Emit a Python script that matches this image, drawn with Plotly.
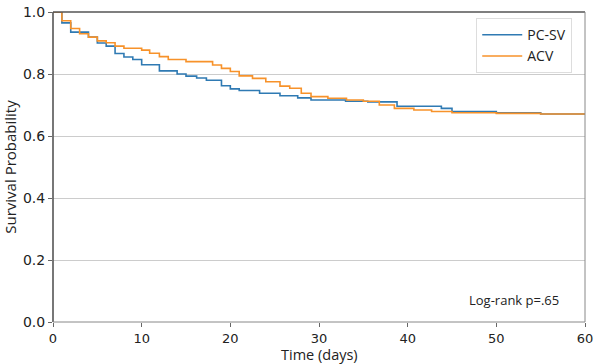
import plotly.graph_objects as go

# PC-SV (blue) Kaplan-Meier step points
pcsv_t = [0, 1, 2, 4, 5, 6, 7, 8, 9, 10, 12, 14, 15, 16.2, 17.3, 19, 20, 21, 23.3, 25.6, 27.6, 29.1, 33, 35.5, 38.8, 43.8, 45, 50, 55, 60]
pcsv_s = [1.0, 0.965, 0.935, 0.919, 0.90, 0.89, 0.866, 0.855, 0.847, 0.83, 0.81, 0.80, 0.793, 0.787, 0.78, 0.762, 0.752, 0.747, 0.738, 0.73, 0.723, 0.716, 0.712, 0.71, 0.696, 0.689, 0.679, 0.675, 0.671, 0.67]

# ACV (orange)
acv_t = [0, 1, 2, 3, 4, 5, 6, 7, 8, 10, 10.9, 12, 13, 15, 18, 19, 20, 21, 22.5, 24, 25.6, 26.7, 28, 29.1, 31, 33.1, 35, 36.8, 38.5, 40.7, 42.7, 45, 50, 55, 60]
acv_s = [1.0, 0.972, 0.947, 0.93, 0.919, 0.907, 0.901, 0.89, 0.883, 0.877, 0.867, 0.856, 0.847, 0.84, 0.829, 0.818, 0.808, 0.794, 0.786, 0.775, 0.761, 0.754, 0.738, 0.727, 0.722, 0.716, 0.712, 0.70, 0.689, 0.684, 0.679, 0.675, 0.673, 0.671, 0.67]

x_ticks = [0, 10, 20, 30, 40, 50, 60]
y_ticks = [0.0, 0.2, 0.4, 0.6, 0.8, 1.0]
y_labels = ["0.0", "0.2", "0.4", "0.6", "0.8", "1.0"]

fig = go.Figure()
fig.add_trace(go.Scatter(x=pcsv_t, y=pcsv_s, mode="lines", line_shape="hv",
                         line=dict(color="#2f7ab3", width=1.6), name="PC-SV"))
fig.add_trace(go.Scatter(x=acv_t, y=acv_s, mode="lines", line_shape="hv",
                         line=dict(color="#f7922a", width=1.6), name="ACV"))

fig.update_layout(
    width=598, height=364,
    margin=dict(l=53, r=13, t=12, b=42),
    plot_bgcolor="white", paper_bgcolor="white",
    showlegend=True,
    legend=dict(x=0.976, y=0.98, xanchor="right", yanchor="top",
                bgcolor="white", bordercolor="#dddddd", borderwidth=1,
                font=dict(family="Open Sans", size=14, color="#222"),
                itemwidth=40, tracegroupgap=0),
    xaxis=dict(range=[0, 60], tickvals=x_ticks, ticks="outside", ticklen=4,
               tickcolor="#666", showgrid=False, zeroline=False, showline=False,
               automargin=False,
               tickfont=dict(family="DejaVu Sans", size=13, color="#222")),
    yaxis=dict(range=[0, 1], tickvals=y_ticks, ticktext=y_labels, ticks="outside",
               ticklen=4, tickcolor="#666", showgrid=True, gridcolor="#cccccc",
               gridwidth=1, zeroline=False, showline=False,
               automargin=False,
               tickfont=dict(family="DejaVu Sans", size=14, color="#222"),
               title=dict(text="Survival Probability", standoff=6,
                          font=dict(family="Open Sans", size=15, color="#222"))),
    annotations=[
        dict(x=0.955, y=0.07, xref="paper", yref="paper", xanchor="right",
             yanchor="middle", showarrow=False, text="Log-rank p=.65",
             font=dict(family="Open Sans", size=13, color="#222")),
        dict(x=0.5, y=-0.105, xref="paper", yref="paper", xanchor="center",
             yanchor="middle", showarrow=False, text="Time (days)",
             font=dict(family="Open Sans", size=14.5, color="#222")),
    ],
    shapes=[
        dict(type="line", xref="paper", yref="paper", x0=0, x1=0, y0=0, y1=1,
             line=dict(color="#555", width=1.6)),
        dict(type="line", xref="paper", yref="paper", x0=0, x1=1, y0=1, y1=1,
             line=dict(color="#555", width=1.6)),
        dict(type="line", xref="paper", yref="paper", x0=1, x1=1, y0=0, y1=1,
             line=dict(color="#888", width=1)),
        dict(type="line", xref="paper", yref="paper", x0=0, x1=1, y0=0, y1=0,
             line=dict(color="#888", width=1)),
    ],
)

fig.write_html("out.html", config={"displayModeBar": False},
               post_script="document.body.style.margin='0';document.body.style.overflow='hidden';")
